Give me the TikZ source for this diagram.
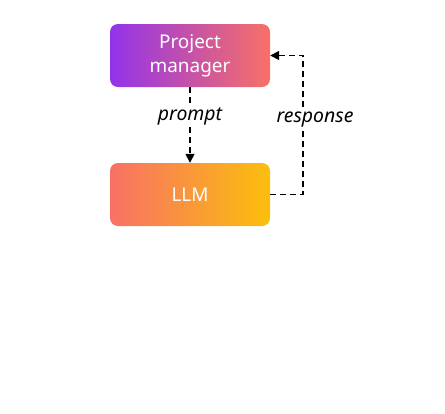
\documentclass[tikz,border=0pt]{standalone}
\usepackage{fontspec}
\setmainfont{Noto Sans}
\usetikzlibrary{positioning,arrows.meta}

\definecolor{pmpurple}{HTML}{9233EA}
\definecolor{coral}{HTML}{F87166}
\definecolor{amber}{HTML}{FBBF0C}

\begin{document}
\begin{tikzpicture}[
            x=1bp, y=-1bp,
            box/.style={rounded corners=8bp, minimum width=160bp, minimum height=63bp,
              text=white, align=center, font=\fontsize{19}{24}\selectfont},
            flow/.style={line width=1.5bp, dash pattern=on 6bp off 4bp, -{Triangle[length=9bp,width=9bp]}},
            lbl/.style={fill=white, inner sep=2bp, font=\itshape\fontsize{19.5}{21}\selectfont}]
            \useasboundingbox (0,0) rectangle (445,413);
            \node[box, left color=pmpurple, right color=coral](pm) at (190,55.5){Project\\manager};
            \node[box, left color=coral, right color=amber](llm) at (190,194.5){LLM};
            \coordinate (back) at (303,55.5);
            
            \draw[flow] (pm) -- node[lbl, pos=0.39]{prompt} (llm);
            \draw[flow] (llm.east) -| node[lbl, pos=0.77, xshift=12bp]{response} (back) -- (pm.east);
            \end{tikzpicture}
\end{document}
